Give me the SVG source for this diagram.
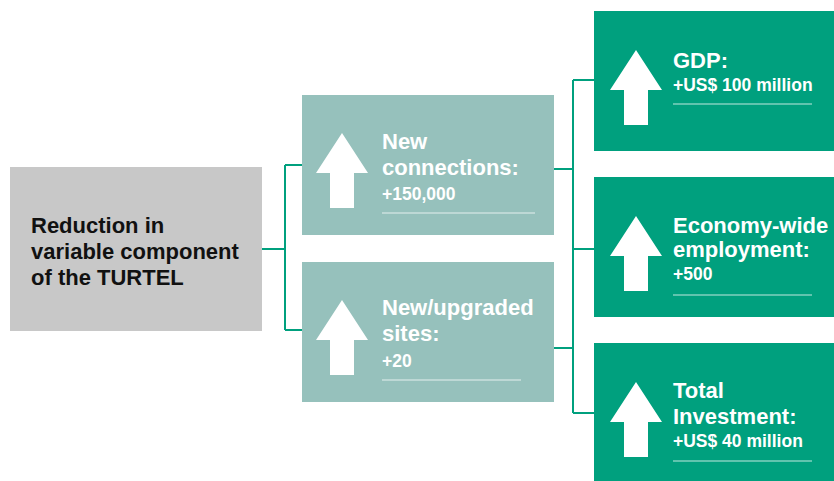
<svg xmlns="http://www.w3.org/2000/svg" width="834" height="481" viewBox="0 0 834 481">
  <defs>
    <style>
      .src { fill: #c8c8c8; }
      .mid { fill: #96c1bc; }
      .out { fill: #00a07e; }
      .arrow { fill: #ffffff; }
      .wire { fill: none; stroke: #00a07e; stroke-width: 2; }
      .rule { stroke: #ffffff; stroke-opacity: 0.75; stroke-width: 1.2; }
      .t { font-family: "Liberation Sans", Arial, sans-serif; font-weight: bold; }
      .dark { fill: #111111; font-size: 22px; }
      .head { fill: #ffffff; font-size: 22px; }
      .val { fill: #ffffff; font-size: 17.5px; }
    </style>
    <!-- up arrow, tip at (0,0), 52 wide, 75 tall -->
    <path id="up" d="M0,0 L26,40 L12,40 L12,75 L-12,75 L-12,40 L-26,40 Z"/>
  </defs>

  <g id="connectors">
    <path class="wire" d="M262,249 H285 M285,165 V330 M285,165 H302 M285,330 H302"/>
    <path class="wire" d="M554,169 H573 M554,348 H573 M573,80 V413 M573,80 H594 M573,249 H594 M573,413 H594"/>
  </g>

  <g id="node-turtel">
    <rect class="src" x="10" y="167" width="252" height="164"/>
    <text class="t dark" x="31" y="233">Reduction in</text>
    <text class="t dark" x="31" y="259">variable component</text>
    <text class="t dark" x="31" y="285">of the TURTEL</text>
  </g>

  <g id="node-connections">
    <rect class="mid" x="302" y="95" width="252" height="140"/>
    <use href="#up" class="arrow" x="342" y="133"/>
    <text class="t head" x="382" y="149">New</text>
    <text class="t head" x="382" y="175">connections:</text>
    <text class="t val" x="382" y="200">+150,000</text>
    <line class="rule" x1="382" y1="213" x2="535" y2="213"/>
  </g>

  <g id="node-sites">
    <rect class="mid" x="302" y="262" width="252" height="140"/>
    <use href="#up" class="arrow" x="342" y="300"/>
    <text class="t head" x="382" y="315">New/upgraded</text>
    <text class="t head" x="382" y="341">sites:</text>
    <text class="t val" x="382" y="367">+20</text>
    <line class="rule" x1="382" y1="380" x2="521" y2="380"/>
  </g>

  <g id="node-gdp">
    <rect class="out" x="594" y="11" width="240" height="140"/>
    <use href="#up" class="arrow" x="636" y="50"/>
    <text class="t head" x="673" y="68">GDP:</text>
    <text class="t val" x="673" y="91">+US$ 100 million</text>
    <line class="rule" x1="673" y1="104" x2="812" y2="104"/>
  </g>

  <g id="node-employment">
    <rect class="out" x="594" y="177" width="240" height="140"/>
    <use href="#up" class="arrow" x="636" y="216"/>
    <text class="t head" x="673" y="233">Economy-wide</text>
    <text class="t head" x="673" y="257">employment:</text>
    <text class="t val" x="673" y="280">+500</text>
    <line class="rule" x1="673" y1="295" x2="812" y2="295"/>
  </g>

  <g id="node-investment">
    <rect class="out" x="594" y="343" width="240" height="138"/>
    <use href="#up" class="arrow" x="636" y="382"/>
    <text class="t head" x="673" y="398">Total</text>
    <text class="t head" x="673" y="424">Investment:</text>
    <text class="t val" x="673" y="447">+US$ 40 million</text>
    <line class="rule" x1="673" y1="461" x2="812" y2="461"/>
  </g>
</svg>
